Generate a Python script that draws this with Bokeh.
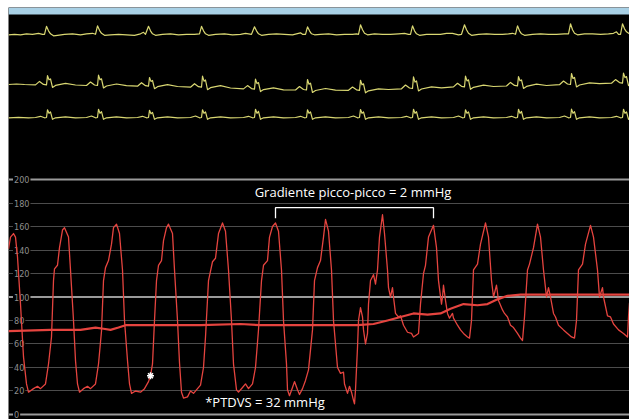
import numpy as np
from bokeh.plotting import figure
from bokeh.models import Range1d, FixedTicker, Span, BoxAnnotation
from bokeh.core.properties import value
from bokeh.embed import file_html
from bokeh.resources import INLINE

# ---------------- data ----------------
# time in ms, pressure in mmHg
lv_pressure = [
    (0, 141), (20, 151), (50, 154), (70, 151), (90, 134), (120, 94), (150, 49), (180, 26), (200, 19),
    (250, 22), (290, 24), (320, 22), (370, 26), (400, 43), (430, 66), (450, 114), (460, 124), (490, 127),
    (510, 142), (540, 157), (560, 159), (600, 151), (620, 123), (650, 80), (670, 46), (690, 26), (710, 19),
    (750, 22), (790, 24), (820, 22), (870, 26), (900, 43), (930, 71), (950, 114), (970, 125), (1000, 131),
    (1030, 145), (1050, 159), (1080, 162), (1110, 154), (1140, 123), (1160, 80), (1190, 46), (1210, 26),
    (1230, 18), (1270, 20), (1320, 19), (1360, 22), (1400, 28), (1420, 33), (1440, 43), (1460, 80),
    (1480, 114), (1500, 127), (1530, 131), (1550, 148), (1580, 159), (1600, 162), (1640, 154), (1660, 123),
    (1690, 80), (1710, 44), (1730, 19), (1750, 14), (1790, 15), (1820, 20), (1850, 18), (1890, 22),
    (1920, 25), (1950, 40), (1970, 66), (2000, 114), (2040, 130), (2070, 133), (2100, 154), (2140, 163),
    (2170, 156), (2200, 123), (2230, 80), (2250, 43), (2280, 21), (2300, 19), (2340, 23), (2370, 26),
    (2400, 22), (2440, 26), (2470, 40), (2500, 72), (2530, 114), (2550, 127), (2590, 131), (2610, 151),
    (2640, 160), (2670, 163), (2700, 156), (2730, 123), (2750, 80), (2780, 43), (2790, 21), (2810, 16),
    (2840, 23), (2860, 28), (2890, 21), (2910, 17), (2940, 22), (2970, 29), (3000, 38), (3040, 72),
    (3060, 114), (3090, 125), (3120, 131), (3150, 151), (3170, 166), (3200, 156), (3230, 123), (3250, 80),
    (3290, 40), (3320, 35), (3350, 36), (3360, 26), (3390, 18), (3410, 24), (3430, 19), (3450, 12),
    (3460, 9), (3470, 21), (3490, 57), (3500, 80), (3520, 91), (3540, 83), (3550, 72), (3570, 60),
    (3590, 69), (3600, 94), (3620, 114), (3650, 119), (3670, 111), (3690, 123), (3710, 151), (3740, 170),
    (3760, 154), (3790, 123), (3800, 108), (3820, 100), (3840, 108), (3850, 100), (3870, 86), (3900, 83),
    (3920, 84), (3950, 76), (3990, 70), (4030, 69), (4050, 66), (4100, 69), (4120, 94), (4150, 120),
    (4170, 127), (4200, 151), (4250, 161), (4280, 142), (4300, 114), (4330, 94), (4340, 100), (4350, 110),
    (4370, 97), (4390, 86), (4410, 82), (4440, 86), (4450, 82), (4490, 76), (4520, 72), (4550, 69),
    (4590, 66), (4610, 65), (4630, 80), (4650, 123), (4690, 128), (4720, 145), (4770, 163), (4800, 151),
    (4830, 114), (4850, 100), (4880, 110), (4900, 97), (4940, 89), (4960, 86), (4990, 83), (5020, 76),
    (5050, 74), (5090, 69), (5120, 65), (5140, 63), (5160, 83), (5190, 123), (5210, 128), (5250, 142),
    (5290, 162), (5320, 151), (5350, 123), (5380, 100), (5400, 108), (5420, 100), (5450, 86), (5470, 83),
    (5500, 76), (5550, 72), (5590, 69), (5630, 66), (5660, 65), (5680, 80), (5700, 123), (5740, 128),
    (5770, 145), (5820, 161), (5850, 151), (5890, 123), (5910, 100), (5940, 108), (5950, 100), (5990, 84),
    (6020, 83), (6050, 77), (6100, 72), (6150, 69), (6190, 66), (6200, 83), (6210, 95),
]

mean_pressure = [
    (0, 71), (420, 72), (720, 72), (870, 74), (950, 73), (1020, 72), (1100, 74), (1170, 76), (1520, 76),
    (1920, 76), (2320, 77), (2520, 76), (3000, 76), (3220, 76), (3490, 76), (3650, 77), (3790, 80),
    (3920, 83), (4050, 86), (4190, 85), (4320, 86), (4420, 90), (4550, 94), (4690, 93), (4790, 94),
    (4890, 98), (4990, 101), (5120, 102), (5520, 102), (5920, 102), (6210, 102),
]

# ECG leads: time in ms, amplitude in mV
ecg_lead1 = [
    (0, 0), (60, 0.05), (120, 0), (180, 0.1), (240, 0.05), (300, 0.15), (340, 0.05), (360, 0.05),
    (380, 0.85), (400, 0.4), (420, 0.1), (450, -0.1), (490, -0.05), (560, 0.05), (640, 0.1), (720, 0),
    (780, 0.1), (840, 0.15), (870, 0.05), (890, 0.9), (910, 0.45), (930, 0.15), (960, -0.05), (1020, 0),
    (1100, 0.05), (1180, 0), (1260, -0.05), (1320, 0.1), (1350, 0.25), (1370, 0.05), (1400, 0.85),
    (1420, 0.4), (1440, 0.1), (1470, -0.05), (1540, 0.05), (1620, 0.1), (1700, 0), (1780, 0.05),
    (1860, 0.05), (1910, 0.1), (1930, 0.85), (1950, 0.4), (1970, 0.1), (2000, -0.05), (2070, 0.05),
    (2160, 0.1), (2240, 0), (2320, 0.05), (2370, 0.15), (2400, 0.1), (2430, 0.05), (2460, 0.8),
    (2480, 0.4), (2500, 0.1), (2530, -0.05), (2600, 0.05), (2680, 0.1), (2760, 0.05), (2840, 0),
    (2920, 0.2), (2940, 0.05), (2970, 0.05), (2990, 0.8), (3010, 0.4), (3030, 0.1), (3060, 0),
    (3120, 0.05), (3200, 0.1), (3280, 0), (3360, 0.05), (3440, 0.05), (3480, 0.1), (3500, 0.05),
    (3520, 1.0), (3540, 0.5), (3560, 0.15), (3590, 0), (3660, 0.1), (3740, 0.05), (3820, 0.05),
    (3900, 0.1), (3960, 0.15), (4000, 0.05), (4020, 0.05), (4040, 0.9), (4060, 0.4), (4080, 0.1),
    (4110, -0.05), (4180, 0.05), (4260, 0.05), (4320, 0.05), (4380, 0.15), (4440, 0.15), (4500, 0),
    (4530, 0.05), (4560, 1.0), (4580, 0.5), (4600, 0.15), (4630, -0.05), (4700, 0.05), (4780, 0.1),
    (4860, 0.05), (4940, 0.05), (5000, 0.1), (5040, 0.15), (5070, 0.05), (5090, 0.9), (5110, 0.4),
    (5130, 0.1), (5160, -0.05), (5240, 0.05), (5320, 0.1), (5400, 0.05), (5480, 0.05), (5560, 0.1),
    (5600, 0.1), (5620, 1.1), (5640, 0.5), (5660, 0.15), (5690, 0), (5760, 0.1), (5840, 0.1),
    (5920, 0.05), (6000, 0.1), (6050, 0.15), (6080, 0.3), (6100, 0.05), (6120, 0.05), (6140, 1.1),
    (6160, 0.6), (6180, 0.3), (6210, 0.1),
]

ecg_lead2 = [
    (0, 0), (80, 0.05), (160, 0), (270, -0.04), (310, 0.31), (350, 0.01), (380, -0.04), (390, 0.89),
    (405, 0.47), (420, 0.56), (440, -0.29), (470, -0.09), (570, 0.11), (670, -0.05),
    (780, -0.1), (820, 0.25), (860, -0.05), (890, -0.1), (900, 0.93), (915, 0.47), (930, 0.57),
    (950, -0.35), (980, -0.15), (1080, 0.05), (1180, -0.12),
    (1290, -0.17), (1330, 0.18), (1370, -0.12), (1400, -0.17), (1410, 0.70), (1425, 0.31), (1440, 0.40),
    (1460, -0.42), (1490, -0.22), (1590, -0.02), (1690, -0.2),
    (1820, -0.27), (1860, 0.08), (1900, -0.22), (1930, -0.27), (1940, 0.83), (1955, 0.33), (1970, 0.45),
    (1990, -0.52), (2020, -0.32), (2120, -0.12), (2220, -0.35),
    (2350, -0.44), (2390, -0.11), (2430, -0.41), (2460, -0.46), (2470, 0.54), (2485, 0.09), (2500, 0.19),
    (2520, -0.71), (2550, -0.51), (2650, -0.33), (2750, -0.53),
    (2870, -0.55), (2910, -0.2), (2950, -0.5), (2980, -0.55), (2990, 0.5), (3005, 0.03), (3020, 0.13),
    (3040, -0.8), (3070, -0.6), (3170, -0.4), (3270, -0.57),
    (3400, -0.58), (3440, -0.25), (3480, -0.53), (3510, -0.58), (3520, 0.42), (3535, -0.03), (3550, 0.07),
    (3570, -0.83), (3600, -0.63), (3700, -0.43), (3800, -0.5),
    (3930, -0.43), (3970, -0.05), (4010, -0.35), (4040, -0.4), (4050, 0.77), (4065, 0.24), (4080, 0.36),
    (4100, -0.65), (4130, -0.45), (4230, -0.23), (4330, -0.33),
    (4450, -0.24), (4490, 0.12), (4530, -0.18), (4560, -0.23), (4570, 0.84), (4585, 0.36), (4600, 0.47),
    (4620, -0.48), (4650, -0.28), (4750, -0.06), (4850, -0.2),
    (4980, -0.15), (5020, 0.21), (5060, -0.09), (5090, -0.14), (5100, 0.79), (5115, 0.37), (5130, 0.46),
    (5150, -0.39), (5180, -0.19), (5280, 0.03), (5380, -0.1),
    (5510, -0.02), (5550, 0.35), (5590, 0.05), (5620, 0), (5630, 1.1), (5645, 0.6), (5660, 0.71),
    (5680, -0.25), (5710, -0.05), (5810, 0.17), (5910, 0.08),
    (6030, 0.13), (6070, 0.49), (6110, 0.19), (6140, 0.14), (6150, 1.14), (6165, 0.69), (6180, 0.79),
    (6200, -0.11), (6210, 0),
]

ecg_lead3 = [
    (0, 0), (100, 0.05), (200, 0), (270, 0.03), (320, 0.15), (360, 0), (380, 0.03), (390, 0.8),
    (405, 0.45), (420, 0.6), (440, -0.15), (470, 0), (570, 0.1), (670, 0),
    (780, 0.03), (830, 0.18), (870, 0), (890, 0.03), (900, 0.85), (915, 0.45), (930, 0.62), (950, -0.15),
    (980, 0), (1080, 0.1), (1180, 0),
    (1290, 0.03), (1340, 0.15), (1380, 0), (1400, 0.03), (1410, 0.75), (1425, 0.4), (1440, 0.55),
    (1460, -0.15), (1490, 0), (1590, 0.1), (1690, 0),
    (1820, 0.03), (1870, 0.18), (1910, 0), (1930, 0.03), (1940, 0.8), (1955, 0.45), (1970, 0.6),
    (1990, -0.15), (2020, 0), (2120, 0.1), (2220, 0),
    (2350, 0.03), (2400, 0.15), (2440, 0), (2460, 0.03), (2470, 0.85), (2485, 0.45), (2500, 0.65),
    (2520, -0.15), (2550, 0), (2650, 0.1), (2750, 0),
    (2870, 0.03), (2920, 0.15), (2960, 0), (2980, 0.03), (2990, 0.8), (3005, 0.45), (3020, 0.6),
    (3040, -0.15), (3070, 0), (3170, 0.1), (3270, 0),
    (3400, 0.03), (3450, 0.18), (3490, 0), (3510, 0.03), (3520, 0.83), (3535, 0.45), (3550, 0.6),
    (3570, -0.15), (3600, 0), (3700, 0.1), (3800, 0),
    (3930, 0.03), (3980, 0.15), (4020, 0), (4040, 0.03), (4050, 0.85), (4065, 0.45), (4080, 0.62),
    (4100, -0.15), (4130, 0), (4230, 0.1), (4330, 0),
    (4450, 0.03), (4500, 0.18), (4540, 0), (4560, 0.03), (4570, 0.8), (4585, 0.45), (4600, 0.6),
    (4620, -0.15), (4650, 0), (4750, 0.1), (4850, 0),
    (4980, 0.03), (5030, 0.15), (5070, 0), (5090, 0.03), (5100, 0.85), (5115, 0.45), (5130, 0.63),
    (5150, -0.15), (5180, 0), (5280, 0.1), (5380, 0),
    (5510, 0.03), (5560, 0.18), (5600, 0), (5620, 0.03), (5630, 0.87), (5645, 0.45), (5660, 0.62),
    (5680, -0.15), (5710, 0), (5810, 0.1), (5910, 0),
    (6030, 0.03), (6080, 0.15), (6120, 0), (6140, 0.03), (6150, 0.85), (6165, 0.45), (6180, 0.6),
    (6200, -0.15), (6210, 0),
]

grid_ticks = [0, 20, 40, 60, 80, 100, 120, 140, 160, 180, 200]
major_ticks = [0, 100, 200]

# annotations
ptdvs_point = (1420, 33)                 # end-diastolic point marked with *
gradient_peaks_t = [2670, 4250]          # the two systolic peaks compared
gradient_label = "Gradiente picco-picco = 2 mmHg"
ptdvs_label = "*PTDVS = 32 mmHg"

# ---------------- layout constants ----------------
W, H = 629, 419
T_END = 6210
P_MIN, P_MAX = -4.26, 346.4
ECG_MAX = 41.2
ECG_BAND = 40.5
lead_offsets = [38.47, 33.5, 30.17]

RED = "#e5443f"
ECG_COL = "#d9d772"

p = figure(width=W, height=H, output_backend="svg", toolbar_location=None,
           x_range=Range1d(0, T_END), y_range=Range1d(P_MIN, P_MAX),
           x_axis_location=None, y_axis_location=None,
           background_fill_color="black", border_fill_color="white",
           min_border_left=8, min_border_right=0, min_border_bottom=0, min_border_top=7)
p.outline_line_color = None
p.extra_y_ranges = {"ecg": Range1d(0, ECG_MAX)}

# light-blue header band of the monitor screen
p.add_layout(BoxAnnotation(bottom=ECG_BAND, y_range_name="ecg", fill_color="#a8d0e5",
                           fill_alpha=1, line_color=None, level="underlay"))

for g in p.xgrid:
    g.visible = False
for g in p.ygrid:
    g.ticker = FixedTicker(ticks=grid_ticks)
    g.grid_line_color = "#4c4c4c"
    g.grid_line_width = 1

for m in major_ticks:
    p.add_layout(Span(location=m, dimension="width", line_color="#9a9a9a",
                      line_width=1.8, level="underlay"))

# tick labels drawn inside the frame
p.text(x=[45] * len(grid_ticks), y=grid_ticks, text=[str(v) for v in grid_ticks],
       text_font=value("DejaVu Sans Condensed, DejaVu Sans"), text_font_size="9px",
       text_color="#8e8e8e", text_align="left", text_baseline="middle",
       background_fill_color="black", padding=1)

# ECG leads
for lead, off in zip([ecg_lead1, ecg_lead2, ecg_lead3], lead_offsets):
    t, mv = zip(*lead)
    p.line(x=list(t), y=list(np.array(mv) + off), y_range_name="ecg",
           line_color=ECG_COL, line_width=1.2, line_join="round")

# pressures
mt, mp = zip(*mean_pressure)
p.line(x=list(mt), y=list(mp), line_color=RED, line_width=2.2, line_join="round")
lt, lp = zip(*lv_pressure)
p.line(x=list(lt), y=list(lp), line_color=RED, line_width=1.3, line_join="round")

# PTDVS marker
p.scatter(x=[ptdvs_point[0]], y=[ptdvs_point[1]], marker="asterisk", size=7,
          line_color="white", line_width=1.5)

# bracket between the two peaks
b0, b1 = gradient_peaks_t
p.line(x=[b0, b0, b1, b1], y=[167, 176, 176, 167], line_color="white", line_width=1.3)

p.text(x=[(b0 + b1) / 2 - 15], y=[189], text=[gradient_label],
       text_font=value("Open Sans"), text_font_size="13px", text_color="white",
       text_align="center", text_baseline="middle")
p.text(x=[2565], y=[11], text=[ptdvs_label],
       text_font=value("Open Sans"), text_font_size="13px", text_color="white",
       text_align="center", text_baseline="middle")

open("out.html", "w").write(file_html(p, INLINE))
